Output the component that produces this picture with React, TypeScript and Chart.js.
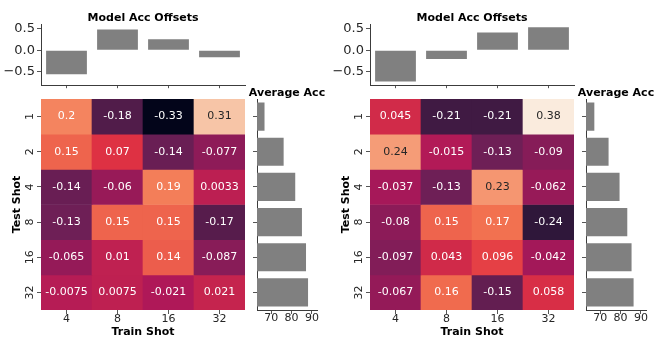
import React, { useEffect, useRef } from "react";
import { Chart, registerables } from "chart.js";

Chart.register(...registerables);
Chart.defaults.font.family = "'DejaVu Sans', sans-serif";
Chart.defaults.color = "#262626";

// ---------- data ----------
const TRAIN_SHOTS = ["4", "8", "16", "32"];
const TEST_SHOTS = ["1", "2", "4", "8", "16", "32"];

const LEFT_HEAT: number[][] = [
  [0.2, -0.18, -0.33, 0.31],
  [0.15, 0.07, -0.14, -0.077],
  [-0.14, -0.06, 0.19, 0.0033],
  [-0.13, 0.15, 0.15, -0.17],
  [-0.065, 0.01, 0.14, -0.087],
  [-0.0075, 0.0075, -0.021, 0.021],
];
const RIGHT_HEAT: number[][] = [
  [0.045, -0.21, -0.21, 0.38],
  [0.24, -0.015, -0.13, -0.09],
  [-0.037, -0.13, 0.23, -0.062],
  [-0.08, 0.15, 0.17, -0.24],
  [-0.097, 0.043, 0.096, -0.042],
  [-0.067, 0.16, -0.15, 0.058],
];

const LEFT_OFFSETS = [-0.56, 0.49, 0.26, -0.16];
const RIGHT_OFFSETS = [-0.73, -0.2, 0.42, 0.54];

const LEFT_AVG_ACC = [66.7, 76.1, 81.8, 85.1, 87.1, 88.1];
const RIGHT_AVG_ACC = [67.1, 74.1, 79.5, 83.3, 85.4, 86.4];

const OFFSET_TICKS = [-0.5, 0, 0.5];
const ACC_TICKS = [70, 80, 90];

const OFFSET_MIN = -0.815;
const OFFSET_MAX = 0.605;
const ACC_MIN = 63;
const ACC_MAX = 92.5;
const COLOR_MIN = -0.33;
const COLOR_MAX = 0.38;

// ---------- styles ----------
const ROCKET = ["#03051a", "#35193e", "#701f57", "#ad1759", "#e13342", "#f37651", "#f6b48f", "#faebdd"];
const GRAY = "#808080";
const SPINE = "#3c3c3c";
const TICK = "#555555";
const FONT = "'DejaVu Sans', sans-serif";

function hexToRgb(h: string) {
  return [parseInt(h.slice(1, 3), 16), parseInt(h.slice(3, 5), 16), parseInt(h.slice(5, 7), 16)];
}
function rocketRgb(v: number) {
  let t = (v - COLOR_MIN) / (COLOR_MAX - COLOR_MIN);
  t = Math.max(0, Math.min(1, t));
  const p = t * (ROCKET.length - 1);
  const i = Math.min(ROCKET.length - 2, Math.floor(p));
  const f = p - i;
  const a = hexToRgb(ROCKET[i]);
  const b = hexToRgb(ROCKET[i + 1]);
  return a.map((c, k) => Math.round(c + (b[k] - c) * f));
}
function rocket(v: number) {
  const [r, g, b] = rocketRgb(v);
  return `rgb(${r},${g},${b})`;
}
function textColorFor(v: number) {
  const lin = (c: number) => {
    c /= 255;
    return c <= 0.03928 ? c / 12.92 : Math.pow((c + 0.055) / 1.055, 2.4);
  };
  const [r, g, b] = rocketRgb(v);
  const lum = 0.2126 * lin(r) + 0.7152 * lin(g) + 0.0722 * lin(b);
  return lum > 0.408 ? "#262626" : "#ffffff";
}
function fmtG2(v: number) {
  return String(Number(v.toPrecision(2)));
}
function fmtOffset(v: number) {
  if (v === 0) return "0.0";
  return (v < 0 ? "\u2212" : "") + Math.abs(v).toFixed(1);
}

// ---------- plugins ----------
const annotatePlugin = {
  id: "heatAnnotate",
  afterDatasetsDraw(chart: any) {
    const ctx = chart.ctx;
    ctx.save();
    ctx.font = `11px ${FONT}`;
    ctx.textAlign = "center";
    ctx.textBaseline = "middle";
    chart.data.datasets.forEach((ds: any, di: number) => {
      const meta = chart.getDatasetMeta(di);
      meta.data.forEach((el: any, i: number) => {
        const v = ds.values[i];
        const { x, y, base } = el.getProps(["x", "y", "base"], true);
        ctx.fillStyle = textColorFor(v);
        ctx.fillText(fmtG2(v), x, (y + base) / 2);
      });
    });
    ctx.restore();
  },
};

const rotatedYLabelsPlugin = {
  id: "rotatedYLabels",
  afterDraw(chart: any) {
    const s = chart.scales.y;
    const ctx = chart.ctx;
    ctx.save();
    ctx.font = `11px ${FONT}`;
    ctx.fillStyle = "#262626";
    ctx.textAlign = "center";
    ctx.textBaseline = "middle";
    s.ticks.forEach((t: any, i: number) => {
      const py = s.getPixelForValue(t.value);
      ctx.save();
      ctx.translate(s.right - 10.5, py);
      ctx.rotate(-Math.PI / 2);
      ctx.fillText(TEST_SHOTS[i], 0, 0);
      ctx.restore();
    });
    ctx.restore();
  },
};

const sideTitlePlugin = {
  id: "sideTitle",
  afterDraw(chart: any) {
    const ctx = chart.ctx;
    const a = chart.chartArea;
    ctx.save();
    ctx.font = `bold 11px ${FONT}`;
    ctx.fillStyle = "#000";
    ctx.textAlign = "center";
    ctx.textBaseline = "middle";
    ctx.fillText("Average Acc", (a.left + a.right) / 2, a.top - 5.7);
    ctx.restore();
  },
};

// ---------- configs ----------
function topBarConfig(values: number[]): any {
  return {
    type: "bar",
    data: {
      labels: TRAIN_SHOTS,
      datasets: [{ data: values, backgroundColor: GRAY, borderWidth: 0, barPercentage: 0.8, categoryPercentage: 1 }],
    },
    options: {
      responsive: false,
      animation: false,
      devicePixelRatio: 1,
      layout: { padding: { left: 0, right: 5, top: 0, bottom: 0 } },
      plugins: {
        legend: { display: false },
        tooltip: { enabled: false },
        title: {
          display: true,
          text: "Model Acc Offsets",
          fullSize: false,
          color: "#000",
          font: { size: 11, weight: "bold", lineHeight: 1 },
          padding: { top: 12.5, bottom: 1 },
        },
      },
      scales: {
        x: {
          ticks: { display: false },
          grid: { drawOnChartArea: false, offset: false, tickLength: 3, color: TICK },
          border: { display: true, color: SPINE },
          afterFit: (s: any) => { s.height = 7.5; },
        },
        y: {
          min: OFFSET_MIN,
          max: OFFSET_MAX,
          afterBuildTicks: (s: any) => { s.ticks = OFFSET_TICKS.map((v) => ({ value: v })); },
          ticks: { font: { size: 13 }, padding: 2, callback: (v: number) => fmtOffset(v) },
          grid: { drawOnChartArea: false, tickLength: 4, color: TICK },
          border: { display: true, color: SPINE },
          afterFit: (s: any) => { s.width = 41; },
        },
      },
    },
  };
}

function heatConfig(grid: number[][]): any {
  return {
    type: "bar",
    data: {
      labels: TRAIN_SHOTS,
      datasets: grid.map((row, r) => ({
        data: row.map(() => [r, r + 1]),
        values: row,
        backgroundColor: row.map((v) => rocket(v)),
        borderWidth: 0,
        barPercentage: 1,
        categoryPercentage: 1,
        grouped: false,
      })),
    },
    options: {
      responsive: false,
      animation: false,
      devicePixelRatio: 1,
      layout: { padding: { left: 0, right: 5, top: 9, bottom: 0 } },
      plugins: { legend: { display: false }, tooltip: { enabled: false } },
      scales: {
        x: {
          ticks: { font: { size: 11, lineHeight: 1 }, padding: 0 },
          grid: { drawOnChartArea: false, offset: false, tickLength: 4, color: TICK },
          border: { display: false },
          title: {
            display: true,
            text: "Train Shot",
            color: "#000",
            font: { size: 11, weight: "bold", lineHeight: 1 },
            padding: { top: 0, bottom: 2.8 },
          },
          afterFit: (s: any) => { s.height = 30; },
        },
        y: {
          min: 0,
          max: TEST_SHOTS.length,
          reverse: true,
          afterBuildTicks: (s: any) => { s.ticks = TEST_SHOTS.map((_, i) => ({ value: i + 0.5 })); },
          ticks: { display: false },
          grid: { drawOnChartArea: false, tickLength: 4, color: TICK },
          border: { display: false },
          title: {
            display: true,
            text: "Test Shot",
            color: "#000",
            font: { size: 11, weight: "bold", lineHeight: 1.2 },
            padding: { top: 10.4, bottom: 0 },
          },
          afterFit: (s: any) => { s.width = 41; },
        },
      },
    },
    plugins: [annotatePlugin, rotatedYLabelsPlugin],
  };
}

function sideBarConfig(values: number[]): any {
  return {
    type: "bar",
    data: {
      labels: TEST_SHOTS,
      datasets: [{ data: values, backgroundColor: GRAY, borderWidth: 0, barPercentage: 0.8, categoryPercentage: 1 }],
    },
    options: {
      indexAxis: "y",
      responsive: false,
      animation: false,
      devicePixelRatio: 1,
      layout: { padding: { left: 0, right: 13, top: 19, bottom: 0 } },
      plugins: {
        legend: { display: false },
        tooltip: { enabled: false },
      },
      scales: {
        y: {
          ticks: { display: false },
          grid: { drawOnChartArea: false, offset: false, tickLength: 4, color: TICK },
          border: { display: true, color: SPINE },
          afterFit: (s: any) => { s.width = 17; },
        },
        x: {
          min: ACC_MIN,
          max: ACC_MAX,
          afterBuildTicks: (s: any) => { s.ticks = ACC_TICKS.map((v) => ({ value: v })); },
          ticks: { font: { size: 11, lineHeight: 1 }, padding: -1 },
          grid: { drawOnChartArea: false, tickLength: 4, color: TICK },
          border: { display: true, color: SPINE },
          afterFit: (s: any) => { s.height = 30; },
        },
      },
    },
    plugins: [sideTitlePlugin],
  };
}

// ---------- components ----------
function ChartBox(props: { left: number; top: number; width: number; height: number; make: () => any }) {
  const ref = useRef<HTMLCanvasElement>(null);
  useEffect(() => {
    const chart = new Chart(ref.current as HTMLCanvasElement, props.make());
    return () => chart.destroy();
  }, []);
  return (
    <div style={{ position: "absolute", left: props.left, top: props.top, width: props.width, height: props.height }}>
      <canvas ref={ref} width={props.width} height={props.height} style={{ display: "block" }} />
    </div>
  );
}

function Panel(props: { x0: number; heat: number[][]; offsets: number[]; avg: number[] }) {
  const { x0, heat, offsets, avg } = props;
  return (
    <>
      <ChartBox left={x0} top={0} width={250} height={95} make={() => topBarConfig(offsets)} />
      <ChartBox left={x0} top={90} width={250} height={250} make={() => heatConfig(heat)} />
      <ChartBox left={x0 + 240} top={80} width={90} height={260} make={() => sideBarConfig(avg)} />
    </>
  );
}

export default function App() {
  return (
    <div style={{ position: "fixed", left: 0, top: 0, width: 664, height: 352, background: "#fff", overflow: "hidden" }}>
      <Panel x0={0} heat={LEFT_HEAT} offsets={LEFT_OFFSETS} avg={LEFT_AVG_ACC} />
      <Panel x0={329} heat={RIGHT_HEAT} offsets={RIGHT_OFFSETS} avg={RIGHT_AVG_ACC} />
    </div>
  );
}
